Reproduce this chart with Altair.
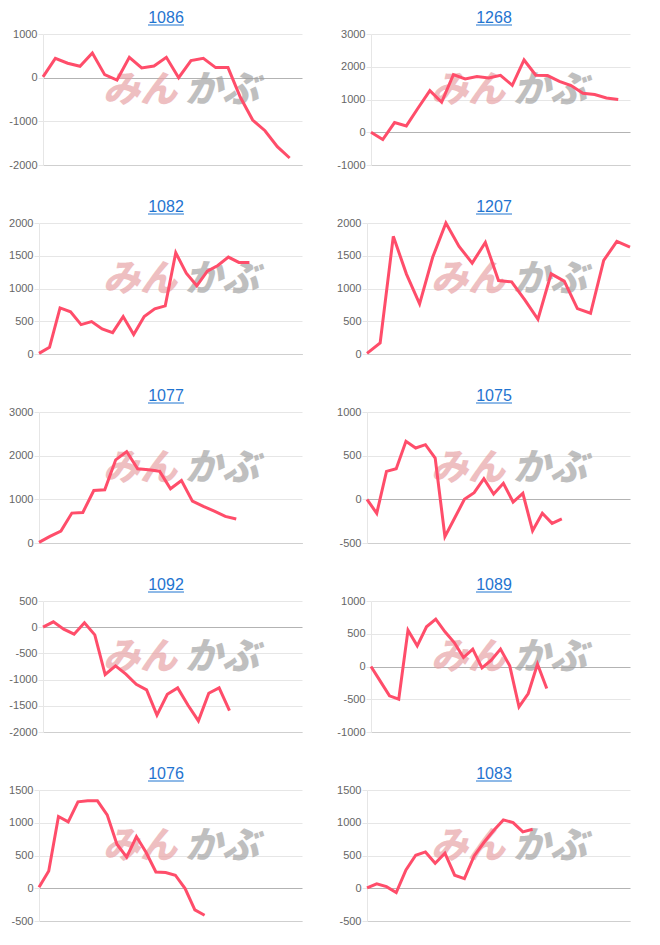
import altair as alt
import pandas as pd

# ---- data ----
TITLES = ["1086", "1268", "1082", "1207", "1077", "1075", "1092", "1089", "1076", "1083"]

V1086 = [20, 443, 330, 260, 566, 69, -54, 466, 222, 268, 466, 0, 390, 443, 230, 230, -450, -970, -1215, -1580, -1840]
V1268 = [0, -224, 295, 193, 740, 1272, 916, 1760, 1628, 1700, 1658, 1740, 1434, 2207, 1740, 1730, 1556, 1424, 1190, 1150, 1048, 997]
V1082 = [10, 102, 704, 643, 449, 495, 383, 327, 571, 296, 571, 689, 735, 1546, 1235, 1041, 1265, 1352, 1480, 1398, 1398]
V1207 = [10, 168, 1796, 1220, 765, 1480, 2000, 1643, 1388, 1704, 1122, 1102, 827, 530, 1224, 1112, 694, 622, 1429, 1719, 1633]
V1077 = [15, 152, 274, 685, 700, 1203, 1218, 1904, 2094, 1698, 1675, 1645, 1241, 1432, 960, 838, 731, 609, 548]
V1075 = [0, -160, 320, 351, 664, 588, 626, 473, -427, -214, 0, 76, 237, 61, 183, -31, 69, -359, -160, -275, -225]
V1092 = [0, 102, -38, -134, 83, -146, -903, -738, -897, -1088, -1196, -1679, -1279, -1158, -1489, -1788, -1260, -1158, -1590]
V1089 = [0, -224, -448, -499, 555, 316, 606, 723, 529, 366, 137, 265, -20, 97, 265, 10, -616, -412, 36, -336]
V1076 = [15, 265, 1095, 1013, 1319, 1334, 1334, 1120, 672, 474, 789, 545, 249, 239, 199, -5, -331, -412]
V1083 = [5, 66, 25, -66, 280, 504, 555, 382, 535, 199, 148, 494, 698, 881, 1044, 1003, 861, 901]

SERIES = [V1086, V1268, V1082, V1207, V1077, V1075, V1092, V1089, V1076, V1083]
SLOTS = [22, 23, 26, 21, 25, 28, 26, 29, 28, 28]          # number of x positions per panel
YTICKS = [
    [-2000, -1000, 0, 1000],
    [-1000, 0, 1000, 2000, 3000],
    [0, 500, 1000, 1500, 2000],
    [0, 500, 1000, 1500, 2000],
    [0, 1000, 2000, 3000],
    [-500, 0, 500, 1000],
    [-2000, -1500, -1000, -500, 0, 500],
    [-1000, -500, 0, 500, 1000],
    [-500, 0, 500, 1000, 1500],
    [-500, 0, 500, 1000, 1500],
]
WATERMARK = ["みん", "かぶ"]

# ---- style ----
W, H = 263, 131
LINE = "#ff4d6a"
GRID = "#e6e6e6"
ZERO = "#b3b3b3"
BLUE = "#1f74d0"
FONT = "Liberation Sans"
TCX = 127   # title centre, px from plot left


def panel(title, values, slots, ticks):
    df = pd.DataFrame({"i": list(range(len(values))), "v": values})
    wide = any(len(str(t)) >= 5 for t in ticks)
    shift = 4 if wide else 0
    xs = alt.Scale(domain=[0, slots - 1], range=[shift, W], nice=False, zero=False)
    ys = alt.Scale(domain=[min(ticks), max(ticks)], nice=False, zero=False)

    line = alt.Chart(df).mark_line(color=LINE, strokeWidth=3).encode(
        x=alt.X("i:Q", scale=xs,
                axis=alt.Axis(labels=False, ticks=False, grid=False, title=None,
                              domainColor="#cfcfcf")),
        y=alt.Y("v:Q", scale=ys,
                axis=alt.Axis(values=ticks, title=None, grid=True,
                              gridColor={"condition": {"test": "datum.value === 0", "value": ZERO},
                                         "value": GRID},
                              tickColor=GRID, tickSize=5, labelPadding=1,
                              labelColor="#666666", labelFont=FONT, labelFontSize=11,
                              domainColor=GRID, offset=-shift,
                              labelExpr="'' + datum.value")),
    )

    wm = pd.DataFrame({"t": WATERMARK})
    wm1 = alt.Chart(wm.iloc[[0]]).mark_text(
        font="Noto Sans CJK JP", fontSize=37, fontWeight=900, fontStyle="italic",
        color="#e8a4a7", opacity=0.7, align="center", baseline="middle"
    ).encode(text="t:N", x=alt.value(101), y=alt.value(57))
    wm2 = alt.Chart(wm.iloc[[1]]).mark_text(
        font="Noto Sans CJK JP", fontSize=37, fontWeight=900, fontStyle="italic",
        color="#9e9e9e", opacity=0.65, align="center", baseline="middle"
    ).encode(text="t:N", x=alt.value(183), y=alt.value(57))

    head = alt.Chart(pd.DataFrame({"t": [title]})).mark_text(
        font=FONT, fontSize=16, color=BLUE, align="center", baseline="alphabetic"
    ).encode(text="t:N", x=alt.value(TCX), y=alt.value(-11))

    underline = alt.Chart(pd.DataFrame({"u": [0]})).mark_rule(color=BLUE, strokeWidth=1).encode(
        x=alt.value(TCX - 18), x2=alt.value(TCX + 18), y=alt.value(-9)
    )

    return alt.layer(wm1, wm2, line, head, underline).properties(width=W, height=H)


panels = [panel(t, v, s, k) for t, v, s, k in zip(TITLES, SERIES, SLOTS, YTICKS)]

chart = alt.concat(*panels, columns=2, spacing={"row": 58, "column": 65}, bounds="flush").properties(
    padding={"left": 0, "top": 2, "right": 0, "bottom": 0}
).configure_view(stroke=None)

chart.save("out.html", embed_options={"renderer": "svg", "actions": False})
